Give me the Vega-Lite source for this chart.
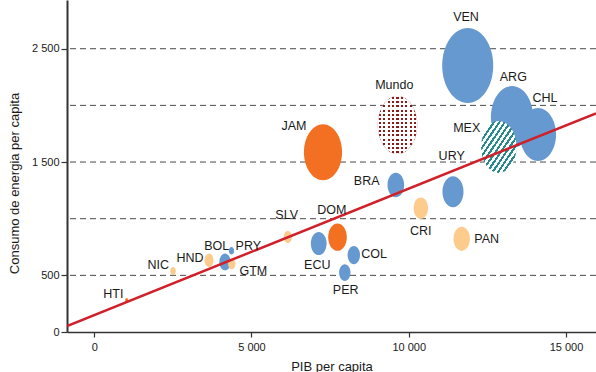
{
  "$schema": "https://vega.github.io/schema/vega-lite/v6.json",
  "width": 529,
  "height": 332,
  "autosize": "none",
  "padding": {"left": 67, "top": 0, "right": 0, "bottom": 40},
  "config": {"view": {"stroke": null}, "font": "Liberation Sans"},
  "datasets": {
    "paises": [
      {"pais": "VEN", "pib": 11875, "energia": 2352, "tam": 56.3, "grupo": "A", "lx": 11821, "ly": 2777},
      {"pais": "ARG", "pib": 13283, "energia": 1897, "tam": 38.4, "grupo": "A", "lx": 13325, "ly": 2253},
      {"pais": "CHL", "pib": 14110, "energia": 1742, "tam": 28.1, "grupo": "A", "lx": 14333, "ly": 2062},
      {"pais": "MEX", "pib": 12864, "energia": 1633, "tam": 27.0, "grupo": "M", "lx": 11843, "ly": 1797},
      {"pais": "Mundo", "pib": 9643, "energia": 1826, "tam": 33.6, "grupo": "W", "lx": 9541, "ly": 2179},
      {"pais": "JAM", "pib": 7274, "energia": 1587, "tam": 31.4, "grupo": "B", "lx": 6352, "ly": 1817},
      {"pais": "BRA", "pib": 9589, "energia": 1298, "tam": 6.0, "grupo": "A", "lx": 8664, "ly": 1332},
      {"pais": "URY", "pib": 11407, "energia": 1238, "tam": 9.6, "grupo": "A", "lx": 11366, "ly": 1552},
      {"pais": "CRI", "pib": 10384, "energia": 1093, "tam": 4.5, "grupo": "C", "lx": 10381, "ly": 892},
      {"pais": "PAN", "pib": 11684, "energia": 822, "tam": 5.8, "grupo": "C", "lx": 12479, "ly": 819},
      {"pais": "SLV", "pib": 6155, "energia": 839, "tam": 1.44, "grupo": "C", "lx": 6120, "ly": 1031},
      {"pais": "ECU", "pib": 7138, "energia": 781, "tam": 5.4, "grupo": "A", "lx": 7093, "ly": 589},
      {"pais": "DOM", "pib": 7735, "energia": 837, "tam": 7.5, "grupo": "B", "lx": 7551, "ly": 1075},
      {"pais": "COL", "pib": 8254, "energia": 679, "tam": 3.35, "grupo": "A", "lx": 8896, "ly": 686},
      {"pais": "PER", "pib": 7967, "energia": 525, "tam": 2.8, "grupo": "A", "lx": 7996, "ly": 368},
      {"pais": "HND", "pib": 3650, "energia": 633, "tam": 1.77, "grupo": "C", "lx": 3046, "ly": 657},
      {"pais": "BOL", "pib": 4159, "energia": 618, "tam": 2.8, "grupo": "A", "lx": 3895, "ly": 757},
      {"pais": "GTM", "pib": 4372, "energia": 601, "tam": 1.14, "grupo": "C", "lx": 5058, "ly": 536},
      {"pais": "PRY", "pib": 4365, "energia": 717, "tam": 0.59, "grupo": "A", "lx": 4899, "ly": 757},
      {"pais": "NIC", "pib": 2505, "energia": 538, "tam": 0.69, "grupo": "C", "lx": 2038, "ly": 589},
      {"pais": "HTI", "pib": 1033, "energia": 280, "tam": 0.2, "grupo": "B", "lx": 607, "ly": 339}
    ],
    "grid": [{"v": 500}, {"v": 1000}, {"v": 1500}, {"v": 2000}, {"v": 2500}],
    "recta": [{"pib": -865, "energia": 53}, {"pib": 15954, "energia": 1930}]
  },
  "layer": [
    {
      "data": {"name": "grid"},
      "mark": {"type": "rule", "color": "#4a4a4a", "strokeWidth": 1, "strokeDash": [6, 4]},
      "encoding": {
        "y": {"field": "v", "type": "quantitative", "scale": {"domain": [0, 2930], "nice": false, "zero": true}}
      }
    },
    {
      "data": {"name": "paises"},
      "transform": [{"filter": "datum.grupo === 'A' || datum.grupo === 'B' || datum.grupo === 'C'"}],
      "mark": {"type": "point", "filled": true, "opacity": 1, "strokeWidth": 0, "shape": "M0,-1A0.68,1,0,1,1,0,1A0.68,1,0,1,1,0,-1Z"},
      "encoding": {
        "x": {
          "field": "pib", "type": "quantitative", "title": "PIB per capita",
          "scale": {"domain": [-865, 15954], "nice": false, "zero": false},
          "axis": {
            "values": [0, 5000, 10000, 15000], "grid": false,
            "labelExpr": "replace(format(datum.value, ','), ',', ' ')",
            "domainColor": "#333333", "domainWidth": 1.5, "tickColor": "#333333", "tickWidth": 1.2, "tickSize": 5,
            "labelFontSize": 11, "labelColor": "#1a1a1a", "labelPadding": 4, "labelFont": "Liberation Sans",
            "titleFontSize": 13, "titleFontWeight": "normal", "titleColor": "#1a1a1a", "titleFont": "Liberation Sans",
            "titlePadding": 8
          }
        },
        "y": {
          "field": "energia", "type": "quantitative", "title": "Consumo de energia per capita",
          "scale": {"domain": [0, 2930], "nice": false, "zero": true},
          "axis": {
            "values": [0, 500, 1500, 2500], "grid": false,
            "labelExpr": "replace(format(datum.value, ','), ',', ' ')",
            "domainColor": "#333333", "domainWidth": 2, "tickColor": "#333333", "tickWidth": 1.2, "tickSize": 6,
            "labelFontSize": 11, "labelColor": "#1a1a1a", "labelPadding": 2, "labelFont": "Liberation Sans",
            "titleFontSize": 13, "titleFontWeight": "normal", "titleColor": "#1a1a1a", "titleFont": "Liberation Sans",
            "titleX": -53, "titleY": 183, "titleAngle": 270, "titleAlign": "center", "titleBaseline": "middle"
          }
        },
        "size": {"field": "tam", "type": "quantitative", "scale": {"type": "linear", "domain": [0, 100], "range": [0, 10000], "zero": true}, "legend": null},
        "color": {"field": "grupo", "type": "nominal", "scale": {"domain": ["A", "B", "C"], "range": ["#6699CF", "#F37022", "#FDCB8C"]}, "legend": null}
      }
    },
    {
      "data": {"name": "paises"},
      "transform": [{"filter": "datum.pais === 'Mundo'"}],
      "mark": {"type": "point", "filled": true, "opacity": 1, "strokeWidth": 0, "fill": "#8C1B1B", "shape": "M0,-1A0.68,1,0,1,1,0,1A0.68,1,0,1,1,0,-1Z"},
      "encoding": {
        "x": {"field": "pib", "type": "quantitative"},
        "y": {"field": "energia", "type": "quantitative"},
        "size": {"field": "tam", "type": "quantitative"}
      }
    },
    {
      "data": {"name": "paises"},
      "transform": [{"filter": "datum.pais === 'Mundo'"}],
      "mark": {"type": "point", "filled": true, "opacity": 1, "strokeWidth": 0, "shape": "M0,-1A0.68,1,0,1,1,0,1A0.68,1,0,1,1,0,-1Z",
        "fill": {"gradient": "linear", "x1": 0, "y1": 0, "x2": 0, "y2": 1, "stops": [
          {"offset": 0, "color": "#ffffff"},
          {"offset": 0.01786, "color": "#ffffff"}, {"offset": 0.01786, "color": "rgba(255,255,255,0)"}, {"offset": 0.05357, "color": "rgba(255,255,255,0)"}, {"offset": 0.05357, "color": "#ffffff"},
          {"offset": 0.08929, "color": "#ffffff"}, {"offset": 0.08929, "color": "rgba(255,255,255,0)"}, {"offset": 0.125, "color": "rgba(255,255,255,0)"}, {"offset": 0.125, "color": "#ffffff"},
          {"offset": 0.16071, "color": "#ffffff"}, {"offset": 0.16071, "color": "rgba(255,255,255,0)"}, {"offset": 0.19643, "color": "rgba(255,255,255,0)"}, {"offset": 0.19643, "color": "#ffffff"},
          {"offset": 0.23214, "color": "#ffffff"}, {"offset": 0.23214, "color": "rgba(255,255,255,0)"}, {"offset": 0.26786, "color": "rgba(255,255,255,0)"}, {"offset": 0.26786, "color": "#ffffff"},
          {"offset": 0.30357, "color": "#ffffff"}, {"offset": 0.30357, "color": "rgba(255,255,255,0)"}, {"offset": 0.33929, "color": "rgba(255,255,255,0)"}, {"offset": 0.33929, "color": "#ffffff"},
          {"offset": 0.375, "color": "#ffffff"}, {"offset": 0.375, "color": "rgba(255,255,255,0)"}, {"offset": 0.41071, "color": "rgba(255,255,255,0)"}, {"offset": 0.41071, "color": "#ffffff"},
          {"offset": 0.44643, "color": "#ffffff"}, {"offset": 0.44643, "color": "rgba(255,255,255,0)"}, {"offset": 0.48214, "color": "rgba(255,255,255,0)"}, {"offset": 0.48214, "color": "#ffffff"},
          {"offset": 0.51786, "color": "#ffffff"}, {"offset": 0.51786, "color": "rgba(255,255,255,0)"}, {"offset": 0.55357, "color": "rgba(255,255,255,0)"}, {"offset": 0.55357, "color": "#ffffff"},
          {"offset": 0.58929, "color": "#ffffff"}, {"offset": 0.58929, "color": "rgba(255,255,255,0)"}, {"offset": 0.625, "color": "rgba(255,255,255,0)"}, {"offset": 0.625, "color": "#ffffff"},
          {"offset": 0.66071, "color": "#ffffff"}, {"offset": 0.66071, "color": "rgba(255,255,255,0)"}, {"offset": 0.69643, "color": "rgba(255,255,255,0)"}, {"offset": 0.69643, "color": "#ffffff"},
          {"offset": 0.73214, "color": "#ffffff"}, {"offset": 0.73214, "color": "rgba(255,255,255,0)"}, {"offset": 0.76786, "color": "rgba(255,255,255,0)"}, {"offset": 0.76786, "color": "#ffffff"},
          {"offset": 0.80357, "color": "#ffffff"}, {"offset": 0.80357, "color": "rgba(255,255,255,0)"}, {"offset": 0.83929, "color": "rgba(255,255,255,0)"}, {"offset": 0.83929, "color": "#ffffff"},
          {"offset": 0.875, "color": "#ffffff"}, {"offset": 0.875, "color": "rgba(255,255,255,0)"}, {"offset": 0.91071, "color": "rgba(255,255,255,0)"}, {"offset": 0.91071, "color": "#ffffff"},
          {"offset": 0.94643, "color": "#ffffff"}, {"offset": 0.94643, "color": "rgba(255,255,255,0)"}, {"offset": 0.98214, "color": "rgba(255,255,255,0)"}, {"offset": 0.98214, "color": "#ffffff"},
          {"offset": 1, "color": "#ffffff"}
        ]}
      },
      "encoding": {
        "x": {"field": "pib", "type": "quantitative"},
        "y": {"field": "energia", "type": "quantitative"},
        "size": {"field": "tam", "type": "quantitative"}
      }
    },
    {
      "data": {"name": "paises"},
      "transform": [{"filter": "datum.pais === 'Mundo'"}],
      "mark": {"type": "point", "filled": true, "opacity": 1, "strokeWidth": 0, "shape": "M0,-1A0.68,1,0,1,1,0,1A0.68,1,0,1,1,0,-1Z",
        "fill": {"gradient": "linear", "x1": 0, "y1": 0, "x2": 1, "y2": 0, "stops": [
          {"offset": 0, "color": "#ffffff"},
          {"offset": 0.02778, "color": "#ffffff"}, {"offset": 0.02778, "color": "rgba(255,255,255,0)"}, {"offset": 0.08333, "color": "rgba(255,255,255,0)"}, {"offset": 0.08333, "color": "#ffffff"},
          {"offset": 0.13889, "color": "#ffffff"}, {"offset": 0.13889, "color": "rgba(255,255,255,0)"}, {"offset": 0.19444, "color": "rgba(255,255,255,0)"}, {"offset": 0.19444, "color": "#ffffff"},
          {"offset": 0.25, "color": "#ffffff"}, {"offset": 0.25, "color": "rgba(255,255,255,0)"}, {"offset": 0.30556, "color": "rgba(255,255,255,0)"}, {"offset": 0.30556, "color": "#ffffff"},
          {"offset": 0.36111, "color": "#ffffff"}, {"offset": 0.36111, "color": "rgba(255,255,255,0)"}, {"offset": 0.41667, "color": "rgba(255,255,255,0)"}, {"offset": 0.41667, "color": "#ffffff"},
          {"offset": 0.47222, "color": "#ffffff"}, {"offset": 0.47222, "color": "rgba(255,255,255,0)"}, {"offset": 0.52778, "color": "rgba(255,255,255,0)"}, {"offset": 0.52778, "color": "#ffffff"},
          {"offset": 0.58333, "color": "#ffffff"}, {"offset": 0.58333, "color": "rgba(255,255,255,0)"}, {"offset": 0.63889, "color": "rgba(255,255,255,0)"}, {"offset": 0.63889, "color": "#ffffff"},
          {"offset": 0.69444, "color": "#ffffff"}, {"offset": 0.69444, "color": "rgba(255,255,255,0)"}, {"offset": 0.75, "color": "rgba(255,255,255,0)"}, {"offset": 0.75, "color": "#ffffff"},
          {"offset": 0.80556, "color": "#ffffff"}, {"offset": 0.80556, "color": "rgba(255,255,255,0)"}, {"offset": 0.86111, "color": "rgba(255,255,255,0)"}, {"offset": 0.86111, "color": "#ffffff"},
          {"offset": 0.91667, "color": "#ffffff"}, {"offset": 0.91667, "color": "rgba(255,255,255,0)"}, {"offset": 0.97222, "color": "rgba(255,255,255,0)"}, {"offset": 0.97222, "color": "#ffffff"},
          {"offset": 1, "color": "#ffffff"}
        ]}
      },
      "encoding": {
        "x": {"field": "pib", "type": "quantitative"},
        "y": {"field": "energia", "type": "quantitative"},
        "size": {"field": "tam", "type": "quantitative"}
      }
    },
    {
      "data": {"name": "paises"},
      "transform": [{"filter": "datum.pais === 'MEX'"}],
      "mark": {"type": "point", "filled": true, "opacity": 1, "strokeWidth": 0, "shape": "M0,-1A0.68,1,0,1,1,0,1A0.68,1,0,1,1,0,-1Z",
        "fill": {"gradient": "linear", "x1": 0, "y1": 0, "x2": 1, "y2": 1, "stops": [
          {"offset": 0, "color": "#ffffff"},
          {"offset": 0.02115, "color": "#ffffff"}, {"offset": 0.02115, "color": "#288A8A"}, {"offset": 0.05577, "color": "#288A8A"}, {"offset": 0.05577, "color": "#ffffff"},
          {"offset": 0.09808, "color": "#ffffff"}, {"offset": 0.09808, "color": "#288A8A"}, {"offset": 0.13269, "color": "#288A8A"}, {"offset": 0.13269, "color": "#ffffff"},
          {"offset": 0.175, "color": "#ffffff"}, {"offset": 0.175, "color": "#288A8A"}, {"offset": 0.20962, "color": "#288A8A"}, {"offset": 0.20962, "color": "#ffffff"},
          {"offset": 0.25192, "color": "#ffffff"}, {"offset": 0.25192, "color": "#288A8A"}, {"offset": 0.28654, "color": "#288A8A"}, {"offset": 0.28654, "color": "#ffffff"},
          {"offset": 0.32885, "color": "#ffffff"}, {"offset": 0.32885, "color": "#288A8A"}, {"offset": 0.36346, "color": "#288A8A"}, {"offset": 0.36346, "color": "#ffffff"},
          {"offset": 0.40577, "color": "#ffffff"}, {"offset": 0.40577, "color": "#288A8A"}, {"offset": 0.44038, "color": "#288A8A"}, {"offset": 0.44038, "color": "#ffffff"},
          {"offset": 0.48269, "color": "#ffffff"}, {"offset": 0.48269, "color": "#288A8A"}, {"offset": 0.51731, "color": "#288A8A"}, {"offset": 0.51731, "color": "#ffffff"},
          {"offset": 0.55962, "color": "#ffffff"}, {"offset": 0.55962, "color": "#288A8A"}, {"offset": 0.59423, "color": "#288A8A"}, {"offset": 0.59423, "color": "#ffffff"},
          {"offset": 0.63654, "color": "#ffffff"}, {"offset": 0.63654, "color": "#288A8A"}, {"offset": 0.67115, "color": "#288A8A"}, {"offset": 0.67115, "color": "#ffffff"},
          {"offset": 0.71346, "color": "#ffffff"}, {"offset": 0.71346, "color": "#288A8A"}, {"offset": 0.74808, "color": "#288A8A"}, {"offset": 0.74808, "color": "#ffffff"},
          {"offset": 0.79038, "color": "#ffffff"}, {"offset": 0.79038, "color": "#288A8A"}, {"offset": 0.825, "color": "#288A8A"}, {"offset": 0.825, "color": "#ffffff"},
          {"offset": 0.86731, "color": "#ffffff"}, {"offset": 0.86731, "color": "#288A8A"}, {"offset": 0.90192, "color": "#288A8A"}, {"offset": 0.90192, "color": "#ffffff"},
          {"offset": 0.94423, "color": "#ffffff"}, {"offset": 0.94423, "color": "#288A8A"}, {"offset": 0.97885, "color": "#288A8A"}, {"offset": 0.97885, "color": "#ffffff"},
          {"offset": 1, "color": "#ffffff"}
        ]}
      },
      "encoding": {
        "x": {"field": "pib", "type": "quantitative"},
        "y": {"field": "energia", "type": "quantitative"},
        "size": {"field": "tam", "type": "quantitative"}
      }
    },
    {
      "data": {"name": "recta"},
      "mark": {"type": "line", "color": "#D0202A", "strokeWidth": 2.5, "clip": true},
      "encoding": {
        "x": {"field": "pib", "type": "quantitative"},
        "y": {"field": "energia", "type": "quantitative"}
      }
    },
    {
      "data": {"name": "paises"},
      "mark": {"type": "text", "font": "Liberation Sans", "fontSize": 12.5, "color": "#1a1a1a", "align": "center", "baseline": "middle"},
      "encoding": {
        "x": {"field": "lx", "type": "quantitative"},
        "y": {"field": "ly", "type": "quantitative"},
        "text": {"field": "pais", "type": "nominal"}
      }
    }
  ]
}
